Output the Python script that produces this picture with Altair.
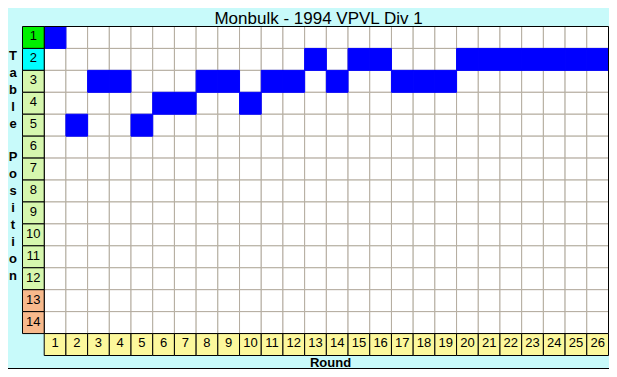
import altair as alt
import pandas as pd

# ---- data ----
rounds = list(range(1, 27))
positions_held = [1, 5, 3, 3, 5, 4, 4, 3, 3, 4, 3, 3, 2, 3, 2, 2, 3, 3, 3, 2, 2, 2, 2, 2, 2, 2]
table_positions = list(range(1, 15))
position_zone = ["first", "second"] + ["middle"] * 10 + ["bottom"] * 2
zone_names = ["first", "second", "middle", "bottom"]
zone_colors = ["#00f000", "#00ffff", "#d6f7ae", "#f7b98c"]
title_text = "Monbulk - 1994 VPVL Div 1"
y_title_words = ["Table", "Position"]
x_title = "Round"

n_r = len(rounds)
n_p = len(table_positions)

grid_df = pd.DataFrame([(r, p) for r in rounds for p in table_positions], columns=["round", "pos"])
held_df = pd.DataFrame({"round": rounds, "pos": positions_held})
poslab_df = pd.DataFrame({"pos": table_positions, "zone": position_zone})
roundlab_df = pd.DataFrame({"round": rounds, "row": [n_p] * n_r})
frame_df = pd.DataFrame({"x0": [0], "x1": [n_r], "y0": [0], "y1": [n_p]})

FONT = "Liberation Sans"
W = 586   # plot width (27 columns incl. label column)
H = 329   # plot height (15 rows incl. label row)
LH = 16.9  # line height of the stacked y title
XS = alt.Scale(domain=[-1, n_r], nice=False, zero=False)
YS = alt.Scale(domain=[0, n_p + 1], reverse=True, nice=False, zero=False)

xaxis = alt.Axis(title=x_title, labels=False, ticks=False, domain=False, grid=False,
                 titleX=307.5, titleY=11, titleAlign="center", titleBaseline="alphabetic",
                 titleFont=FONT, titleFontSize=13, titleFontWeight="bold", titleColor="black")
yaxis = alt.Axis(title=None, labels=False, ticks=False, domain=False, grid=False)


def rect_enc():
    return dict(
        x=alt.X("x0:Q", scale=XS, axis=xaxis),
        x2="x1:Q",
        y=alt.Y("y0:Q", scale=YS, axis=yaxis),
        y2="y1:Q",
    )


def text_enc(field):
    return dict(
        x=alt.X("xc:Q", scale=XS, axis=xaxis),
        y=alt.Y("yc:Q", scale=YS, axis=yaxis),
        text=alt.Text(field),
    )


grid = alt.Chart(grid_df).transform_calculate(
    x0="datum.round - 1", x1="datum.round", y0="datum.pos - 1", y1="datum.pos"
).mark_rect(fill="white", stroke="#b4ac9f", strokeWidth=1).encode(**rect_enc())

held = alt.Chart(held_df).transform_calculate(
    x0="datum.round - 1", x1="datum.round", y0="datum.pos - 1", y1="datum.pos"
).mark_rect(fill="#0000ff", stroke="#0000ff", strokeWidth=1).encode(**rect_enc())

frame = alt.Chart(frame_df).mark_rect(fillOpacity=0, stroke="black", strokeWidth=1).encode(**rect_enc())

poslab = alt.Chart(poslab_df).transform_calculate(
    x0="-1", x1="0", y0="datum.pos - 1", y1="datum.pos"
).mark_rect(stroke="black", strokeWidth=1).encode(
    color=alt.Color("zone:N", scale=alt.Scale(domain=zone_names, range=zone_colors), legend=None),
    **rect_enc()
)
postext = alt.Chart(poslab_df).transform_calculate(
    xc="-0.5", yc="datum.pos - 0.55"
).mark_text(font=FONT, fontSize=13, color="black", baseline="middle", align="center").encode(**text_enc("pos:Q"))

roundlab = alt.Chart(roundlab_df).transform_calculate(
    x0="datum.round - 1", x1="datum.round", y0="datum.row", y1="datum.row + 1"
).mark_rect(fill="#fcf89c", stroke="black", strokeWidth=1).encode(**rect_enc())
roundtext = alt.Chart(roundlab_df).transform_calculate(
    xc="datum.round - 0.5", yc="datum.row + 0.45"
).mark_text(font=FONT, fontSize=13, color="black", baseline="middle", align="center").encode(**text_enc("round:Q"))

# chart title and stacked y title as text
title_mark = alt.Chart(frame_df).mark_text(
    text=title_text, font=FONT, fontSize=17, color="black", align="center", baseline="alphabetic"
).encode(x=alt.value(296), y=alt.value(-3))

ytitle_1 = alt.Chart(frame_df).mark_text(
    text=list(y_title_words[0]), font=FONT, fontSize=13, fontWeight="bold", color="black",
    align="center", baseline="alphabetic", lineHeight=LH
).encode(x=alt.value(-9.5), y=alt.value(33.5))
ytitle_2 = alt.Chart(frame_df).mark_text(
    text=list(y_title_words[1]), font=FONT, fontSize=13, fontWeight="bold", color="black",
    align="center", baseline="alphabetic", lineHeight=LH
).encode(x=alt.value(-9.5), y=alt.value(33.5 + (len(y_title_words[0]) + 1) * LH))

# bottom edge of the picture frame
edge_b = alt.Chart(frame_df).mark_rule(color="black", strokeWidth=1).encode(
    x=alt.value(-14.5), x2=alt.value(W + 0.5), y=alt.value(342))

chart = alt.layer(grid, held, frame, poslab, postext, roundlab, roundtext,
                  title_mark, ytitle_1, ytitle_2, edge_b).properties(
    width=W,
    height=H,
    autosize=alt.AutoSizeParams(type="none"),
    padding={"left": 14.5, "top": 18.5, "right": 0.5, "bottom": 13.5},
    background="#c8fafa",
).configure_view(strokeWidth=0)

chart.save("out.html", embed_options={"renderer": "svg", "actions": False})
